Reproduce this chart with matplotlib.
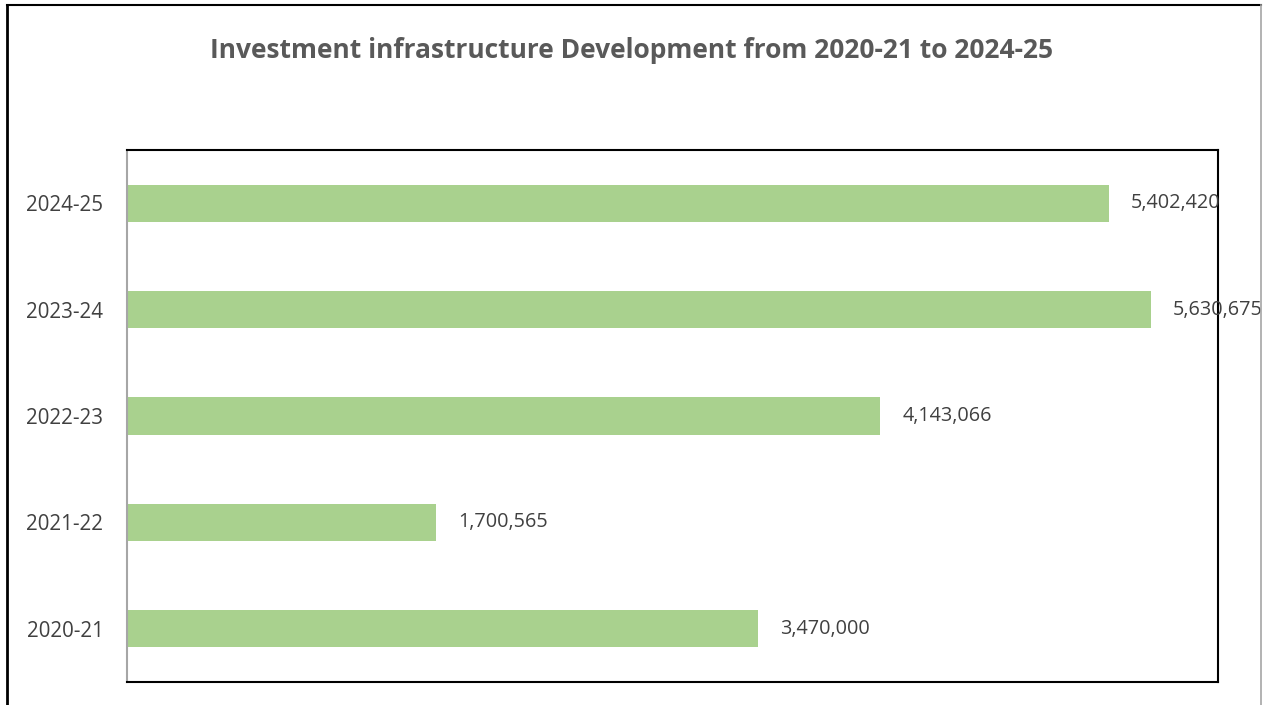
import matplotlib.pyplot as plt
from matplotlib.lines import Line2D

years = ["2020-21", "2021-22", "2022-23", "2023-24", "2024-25"]
invest = [3470000, 1700565, 4143066, 5630675, 5402420]

plt.rcParams['font.family'] = ['Open Sans', 'DejaVu Sans']

W, H = 1263, 705
fig = plt.figure(figsize=(W / 100, H / 100), dpi=100)
ax = fig.add_axes([127 / W, 1 - 682 / H, (1218 - 127) / W, (682 - 150) / H])

ax.barh(years, invest, height=0.35, color="#A9D18E")
for i, v in enumerate(invest):
    ax.text(v + 120000, i, f"{v:,}", va="center", ha="left",
            fontsize=14.3, color="#404040", clip_on=False)

ax.set_xlim(0, 6000000)
ax.set_ylim(-0.5, 4.5)
ax.set_xticks([])
ax.tick_params(axis="y", length=0, pad=17, labelsize=14.8, labelcolor="#404040")

for s in ["top", "right", "bottom"]:
    ax.spines[s].set_color("black")
    ax.spines[s].set_linewidth(1.5)
ax.spines["left"].set_color("#A6A6A6")
ax.spines["left"].set_linewidth(1.5)

fig.text(0.5, 1 - 50 / H, "Investment infrastructure Development from 2020-21 to 2024-25",
         ha="center", va="center", fontsize=19, fontweight="bold", color="#595959")

# outer chart frame
fig.add_artist(Line2D([7 / W, 7 / W], [0, 1 - 5 / H], color="black", lw=2))
fig.add_artist(Line2D([7 / W, 1261 / W], [1 - 5 / H, 1 - 5 / H], color="black", lw=1.5))
fig.add_artist(Line2D([1261 / W, 1261 / W], [0, 1 - 5 / H], color="#A6A6A6", lw=1.2))

fig.savefig("out.png", dpi=100)
